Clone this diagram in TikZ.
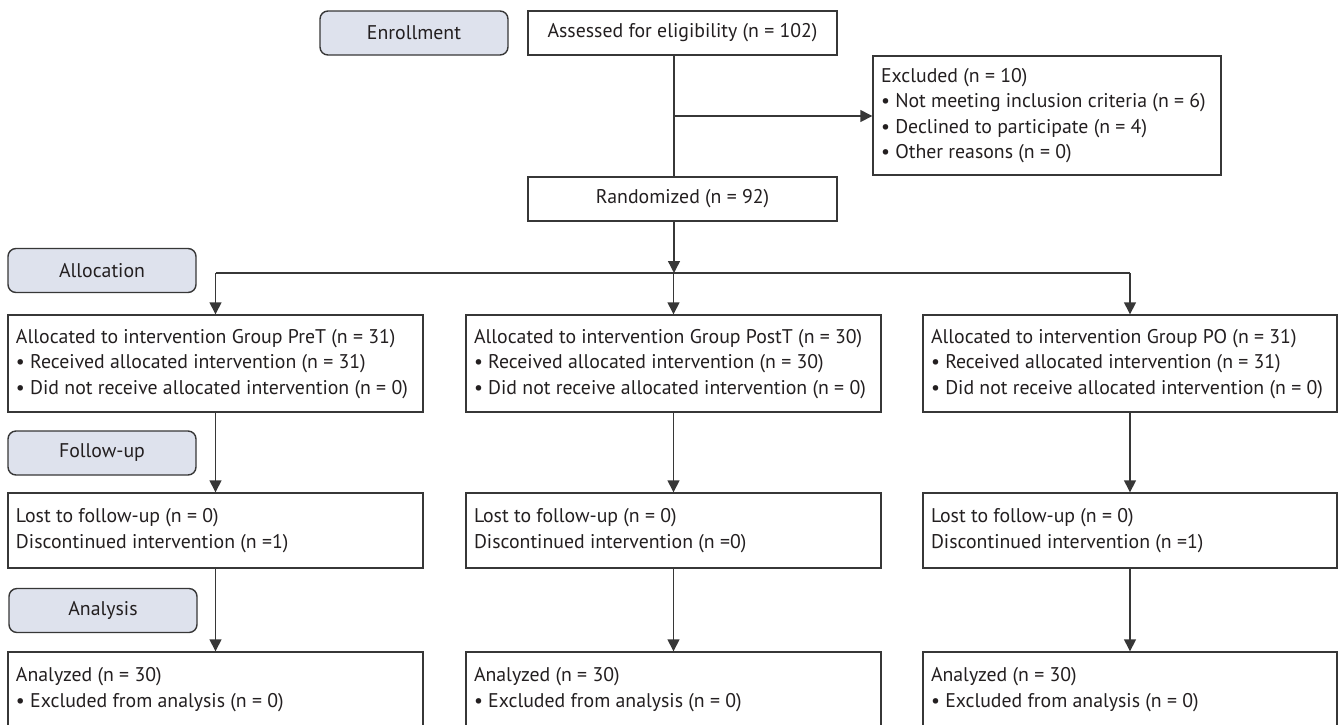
\documentclass[tikz,border=0pt]{standalone}
\usepackage{fontspec}
\setmainfont{PT Sans}
\usetikzlibrary{arrows.meta}
\definecolor{linecol}{RGB}{55,55,55}
\definecolor{stagefill}{RGB}{222,226,237}
\definecolor{txtcol}{RGB}{35,31,32}
\newcommand{\lfttext}[2]{\makebox[#1][l]{\begin{tabular}{@{}l@{}}#2\end{tabular}}}
\begin{document}
\begin{tikzpicture}[x=1pt,y=1pt,
  every node/.style={text=txtcol, font=\fontsize{19.8}{25.5}\selectfont},
  box/.style={draw=linecol, line width=1.4pt, fill=white, inner xsep=8pt, inner ysep=0pt},
  cbox/.style={draw=linecol, line width=1.4pt, fill=white, inner sep=0pt, align=center},
  stage/.style={draw=linecol, line width=1.4pt, fill=stagefill, rounded corners=8pt, inner sep=0pt, minimum width=188pt, minimum height=44pt},
  conn/.style={draw=linecol, line width=1.4pt},
  arr/.style={conn, -{Triangle[length=12pt,width=12pt]}}]
\useasboundingbox (0,0) rectangle (1340,-724);
\clip (0,0) rectangle (1340,-724);
% stages
\node[stage] (enroll) at (414,-33) {Enrollment};
\node[stage] (alloc) at (102,-270.5) {Allocation};
\node[stage] (follow) at (102,-453) {Follow-up};
\node[stage] (anal) at (103,-610.5) {Analysis};
% top
\node[cbox, minimum width=309pt, minimum height=44pt] (assess) at (682.5,-33) {Assessed for eligibility (n = 102)};
\node[box, minimum height=119pt] (excl) at (1047,-115.5) {\lfttext{332pt}{Excluded (n = 10)\\ \textbullet\ Not meeting inclusion criteria (n = 6)\\ \textbullet\ Declined to participate (n = 4)\\ \textbullet\ Other reasons (n = 0)}};
\node[cbox, minimum width=309pt, minimum height=44pt] (rand) at (682.5,-199) {Randomized (n = 92)};
% allocation
\node[box, minimum height=97pt] (A1) at (215.5,-363.5) {\lfttext{399pt}{Allocated to intervention Group PreT (n = 31)\\ \textbullet\ Received allocated intervention (n = 31)\\ \textbullet\ Did not receive allocated intervention (n = 0)}};
\node[box, minimum height=97pt] (A2) at (673.5,-363.5) {\lfttext{399pt}{Allocated to intervention Group PostT (n = 30)\\ \textbullet\ Received allocated intervention (n = 30)\\ \textbullet\ Did not receive allocated intervention (n = 0)}};
\node[box, minimum height=97pt] (A3) at (1130,-363.5) {\lfttext{398pt}{Allocated to intervention Group PO (n = 31)\\ \textbullet\ Received allocated intervention (n = 31)\\ \textbullet\ Did not receive allocated intervention (n = 0)}};
% follow-up
\node[box, minimum height=75pt] (L1) at (215.5,-530.5) {\lfttext{399pt}{Lost to follow-up (n = 0)\\ Discontinued intervention (n =1)}};
\node[box, minimum height=75pt] (L2) at (673.5,-530.5) {\lfttext{399pt}{Lost to follow-up (n = 0)\\ Discontinued intervention (n =0)}};
\node[box, minimum height=75pt] (L3) at (1130,-530.5) {\lfttext{398pt}{Lost to follow-up (n = 0)\\ Discontinued intervention (n =1)}};
% analysis
\node[box, minimum height=75pt] (N1) at (215.5,-689.5) {\lfttext{399pt}{Analyzed (n = 30)\\ \textbullet\ Excluded from analysis (n = 0)}};
\node[box, minimum height=75pt] (N2) at (673.5,-689.5) {\lfttext{399pt}{Analyzed (n = 30)\\ \textbullet\ Excluded from analysis (n = 0)}};
\node[box, minimum height=75pt] (N3) at (1130,-689.5) {\lfttext{398pt}{Analyzed (n = 30)\\ \textbullet\ Excluded from analysis (n = 0)}};
% connectors
\coordinate (br) at (674,-116);
\coordinate (jn) at (674,-273);
\draw[conn] (assess.south -| br) -- (rand.north -| br);
\draw[arr] (br) -- (excl.west |- br);
\draw[arr] (rand.south -| jn) -- (jn);
\draw[conn] (jn -| A1.north) -- (jn -| A3.north);
\draw[arr] (jn -| A1.north) -- (A1.north);
\draw[arr] (jn -| A2.north) -- (A2.north);
\draw[arr] (jn -| A3.north) -- (A3.north);
\draw[arr] (A1.south) -- (L1.north);
\draw[arr] (A2.south) -- (L2.north);
\draw[arr] (A3.south) -- (L3.north);
\draw[arr] (L1.south) -- (N1.north);
\draw[arr] (L2.south) -- (N2.north);
\draw[arr] (L3.south) -- (N3.north);
\end{tikzpicture}
\end{document}
